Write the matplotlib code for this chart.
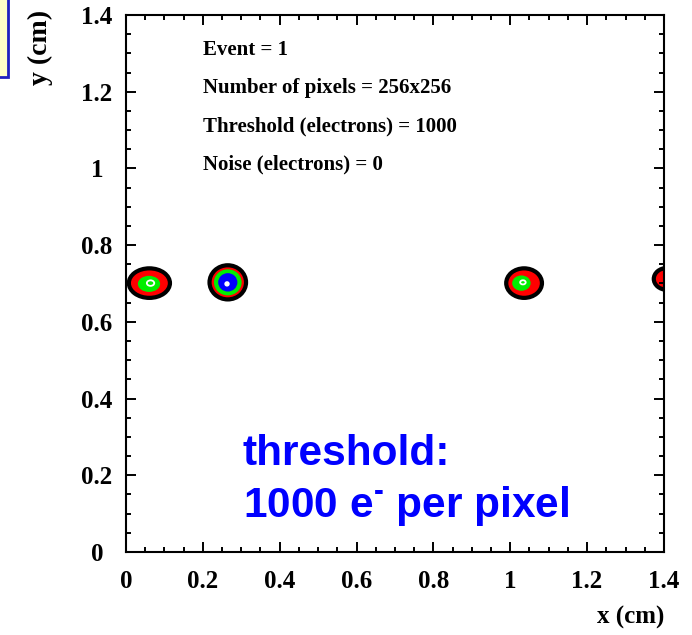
import matplotlib.pyplot as plt
from matplotlib.patches import Ellipse, Rectangle

# %% Data read off the event display
x_ticks = [0, 0.2, 0.4, 0.6, 0.8, 1.0, 1.2, 1.4]
x_tick_labels = ["0", "0.2", "0.4", "0.6", "0.8", "1", "1.2", "1.4"]
y_ticks = [0, 0.2, 0.4, 0.6, 0.8, 1.0, 1.2, 1.4]
y_tick_labels = ["0", "0.2", "0.4", "0.6", "0.8", "1", "1.2", "1.4"]

# cluster centres (cm) and contour sizes (semi-axes, cm)
cluster_x = [0.061, 0.265, 1.036, 1.408]
cluster_y = [0.701, 0.703, 0.701, 0.712]
outer_rx = [0.059, 0.053, 0.052, 0.040]
outer_ry = [0.044, 0.050, 0.044, 0.034]
green_x = [0.060, 0.265, 1.029, 1.408]
green_y = [0.699, 0.703, 0.701, 0.712]
green_rx = [0.029, 0.036, 0.024, 0.0]
green_ry = [0.021, 0.034, 0.020, 0.0]
blue_rx = [0.0, 0.025, 0.0, 0.0]
blue_ry = [0.0, 0.024, 0.0, 0.0]
core_r = [0.008, 0.007, 0.006, 0.0]

info_lines = [
    "Event = 1",
    "Number of pixels = 256x256",
    "Threshold (electrons) = 1000",
    "Noise (electrons) = 0",
]
info_y = [1.296, 1.197, 1.095, 0.998]

serif = "Liberation Serif"
sans = "Liberation Sans"
plt.rcParams["mathtext.fontset"] = "custom"
plt.rcParams["mathtext.rm"] = "Liberation Sans:bold"
plt.rcParams["mathtext.bf"] = "Liberation Sans:bold"

# %% Figure
fig = plt.figure(figsize=(6.92, 6.35), dpi=100)
ax = fig.add_axes([0.182, 0.1307, 0.7775, 0.8457])
ax.set(xlim=[0, 1.4], ylim=[0, 1.4])

rim = 0.011
for i in range(len(cluster_x)):
    cx, cy = cluster_x[i], cluster_y[i]
    ax.add_patch(Ellipse((cx, cy), 2 * outer_rx[i], 2 * outer_ry[i], fc="k", ec="none"))
    ax.add_patch(
        Ellipse((cx, cy), 2 * (outer_rx[i] - rim), 2 * (outer_ry[i] - rim), fc="#ff0000", ec="none")
    )
    if green_rx[i] > 0:
        ax.add_patch(
            Ellipse((green_x[i], green_y[i]), 2 * green_rx[i], 2 * green_ry[i], fc="#00ee00", ec="none")
        )
    if blue_rx[i] > 0:
        ax.add_patch(Ellipse((cx, cy), 2 * blue_rx[i], 2 * blue_ry[i], fc="#0000ff", ec="none"))
        ax.add_patch(Ellipse((cx - 0.002, cy - 0.004), 2 * core_r[i], 2 * core_r[i], fc="white", ec="none"))
    elif core_r[i] > 0:
        ax.add_patch(
            Ellipse(
                (green_x[i] + 0.004, green_y[i] + 0.002),
                2.4 * core_r[i],
                1.8 * core_r[i],
                fc="none",
                ec="white",
                lw=1.3,
            )
        )

for text, yy in zip(info_lines, info_y):
    ax.text(0.2, yy, text, family=serif, weight="bold", fontsize=15, ha="left", va="baseline")

ax.text(0.304, 0.227, "threshold:", family=sans, weight="bold", fontsize=30.5,
        color="#0000ff", ha="left", va="baseline")
ax.text(0.304, 0.091, "1000 e$^{\u2010}$ per pixel", family=sans, weight="bold",
        fontsize=30.5, color="#0000ff", ha="left", va="baseline")

ax.set_xticks(x_ticks, x_tick_labels)
ax.set_yticks(y_ticks, y_tick_labels)
ax.set_xticks([i * 0.05 for i in range(29)], minor=True)
ax.set_yticks([i * 0.05 for i in range(29)], minor=True)
ax.tick_params(which="both", direction="in", top=True, right=True, width=1.4)
ax.tick_params(which="major", length=7.2)
ax.tick_params(which="minor", length=3.6)
ax.tick_params(axis="x", pad=13)
ax.tick_params(axis="y", pad=21)
for lab in ax.get_xticklabels() + ax.get_yticklabels():
    lab.set(family=serif, weight="bold", fontsize=18)
for lab in ax.get_yticklabels():
    lab.set_horizontalalignment("center")
for spine in ax.spines.values():
    spine.set_linewidth(1.5)

fig.text(664 / 692, 1 - 617 / 635, "x (cm)", family=serif, weight="bold", fontsize=18,
         ha="right", va="center")
fig.text(40 / 692, 1 - 10 / 635, "y (cm)", family=serif, weight="bold", fontsize=20,
         rotation=90, ha="center", va="top")

# pad box partially visible in top-left corner
fig.patches.append(
    Rectangle((-0.02, 1 - 77 / 635), 0.02 + 8 / 692, 0.2, transform=fig.transFigure,
              fc="#ffffc8", ec="#2020c0", lw=2)
)

fig.savefig("out.png", dpi=100)
